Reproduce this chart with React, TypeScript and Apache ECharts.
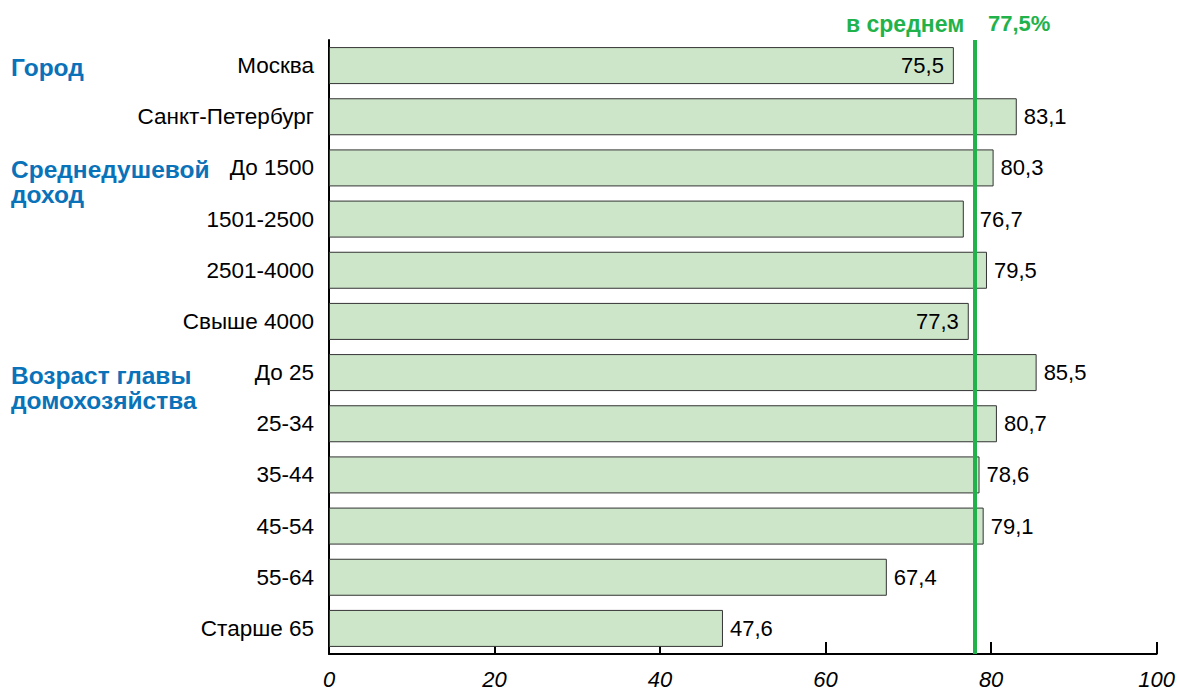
import React, { useEffect, useRef } from "react";
import * as echarts from "echarts";

const categories = [
  "Москва",
  "Санкт-Петербург",
  "До 1500",
  "1501-2500",
  "2501-4000",
  "Свыше 4000",
  "До 25",
  "25-34",
  "35-44",
  "45-54",
  "55-64",
  "Старше 65",
];
const values = [75.5, 83.1, 80.3, 76.7, 79.5, 77.3, 85.5, 80.7, 78.6, 79.1, 67.4, 47.6];
const insideLabelCats = ["Москва", "Свыше 4000"];
const shiftedLabelCats = ["1501-2500"];
const averageLinePos = 78;
const averageText = "77,5%";
const xTicks = [0, 20, 40, 60, 80, 100];
const groupLabels = [
  { text: "Город", y: 67 },
  { text: "Среднедушевой\nдоход", y: 182 },
  { text: "Возраст главы\nдомохозяйства", y: 387.5 },
];

const FONT = "'Liberation Sans', Arial, Helvetica, sans-serif";

export default function App() {
  const ref = useRef<HTMLDivElement>(null);
  useEffect(() => {
    if (!ref.current) return;
    const chart = echarts.init(ref.current, undefined, { renderer: "svg" });
    const fmt = (v: number) => v.toFixed(1).replace(".", ",");
    chart.setOption({
      animation: false,
      textStyle: { fontFamily: FONT },
      grid: { left: 329, right: 21, top: 40, bottom: 37, containLabel: false },
      xAxis: {
        type: "value",
        min: xTicks[0],
        max: xTicks[xTicks.length - 1],
        interval: 20,
        splitLine: { show: false },
        axisLine: { show: true, lineStyle: { color: "#000", width: 2 } },
        axisTick: { show: true, inside: true, length: 12, lineStyle: { color: "#000", width: 2 } },
        axisLabel: {
          color: "#000",
          fontSize: 22,
          fontStyle: "italic",
          fontFamily: FONT,
          margin: 14,
        },
      },
      yAxis: {
        type: "category",
        inverse: true,
        data: categories,
        axisLine: { show: true, lineStyle: { color: "#000", width: 2 } },
        axisTick: { show: false },
        axisLabel: { color: "#000", fontSize: 22.5, fontFamily: FONT, margin: 15 },
      },
      series: [
        {
          type: "bar",
          barWidth: 37,
          data: values.map((v, i) => {
            const inside = insideLabelCats.includes(categories[i]);
            const shifted = shiftedLabelCats.includes(categories[i]);
            return {
              value: v,
              label: inside
                ? { position: "insideRight", distance: 10 }
                : { position: "right", distance: shifted ? 16 : 7 },
            };
          }),
          itemStyle: { color: "#cde6ca", borderColor: "#333", borderWidth: 1 },
          label: {
            show: true,
            color: "#000",
            fontSize: 22,
            fontFamily: FONT,
            formatter: (p: any) => fmt(p.value),
          },
          markLine: {
            silent: true,
            symbol: "none",
            label: { show: false },
            lineStyle: { color: "#22b24c", width: 4, type: "solid" },
            data: [{ xAxis: averageLinePos }],
          },
        },
      ],
      graphic: [
        ...groupLabels.map((g) => ({
          type: "text",
          x: 11,
          y: g.y,
          style: {
            text: g.text,
            fill: "#0a72b8",
            font: `bold 24.5px ${FONT}`,
            lineHeight: 25,
            verticalAlign: "middle",
          },
        })),
        {
          type: "text",
          x: 846,
          y: 23.5,
          style: {
            text: "в среднем",
            fill: "#22b24c",
            font: `bold 23px ${FONT}`,
            verticalAlign: "middle",
          },
        },
        {
          type: "text",
          x: 988,
          y: 23.5,
          style: {
            text: averageText,
            fill: "#22b24c",
            font: `bold 22px ${FONT}`,
            verticalAlign: "middle",
          },
        },
      ],
    });
    return () => chart.dispose();
  }, []);
  return <div ref={ref} style={{ width: 1178, height: 691, position: "absolute", left: 0, top: 0 }} />;
}
